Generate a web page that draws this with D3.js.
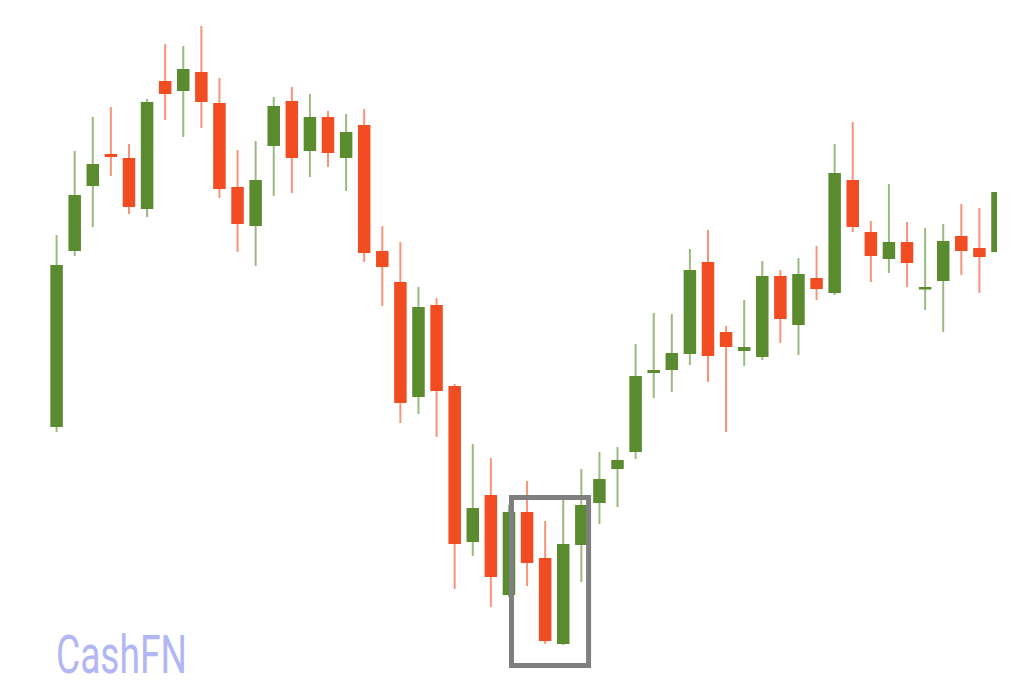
<!DOCTYPE html>
<html>
<head>
<meta charset="utf-8">
<script src="https://cdn.jsdelivr.net/npm/d3@7"></script>
<style>
html,body{margin:0;padding:0;background:#fff;}
svg{display:block;}
</style>
</head>
<body>
<svg id="chart" width="1024" height="698"></svg>
<script>
// Candle data (open, high, low, close)
const opens  = [27.3,44.9,51.4,54.6,54.2,49.1,61.9,60.9,62.8,59.7,51.3,47.4,55.4,59.9,54.9,58.3,54.2,57.5,44.9,41.8,30.3,39.5,31.4,15.8,20.5,10.5,18.8,14.2,5.6,15.5,19.7,23.1,24.8,32.7,33.0,34.6,43.8,36.8,34.9,34.3,42.4,37.5,42.2,40.7,52.0,46.8,44.1,45.8,41.1,41.9,46.4,45.2,44.8];
const highs  = [46.5,54.9,58.3,59.3,55.6,60.1,65.6,65.4,67.4,62.2,55.0,55.9,60.3,61.3,60.6,58.9,58.6,59.1,47.4,45.8,41.3,40.2,31.6,25.6,24.2,19.5,21.9,17.9,20.0,23.1,24.8,25.3,35.6,38.7,38.6,45.1,47.0,37.4,40.0,43.9,43.0,44.2,45.4,55.6,57.8,47.9,51.6,47.8,47.2,47.6,49.6,49.2,50.8];
const lows   = [26.8,44.4,47.3,52.4,48.6,48.3,58.0,56.3,57.2,50.2,44.8,43.4,50.4,50.7,52.3,53.3,50.9,43.8,39.4,27.7,28.6,26.3,11.1,14.4,9.3,10.3,11.4,5.6,5.5,11.8,17.6,19.3,24.1,30.2,30.8,33.5,31.8,26.8,33.4,34.0,35.7,34.5,40.0,40.5,46.8,41.8,42.7,41.3,39.0,36.8,42.5,40.7,44.8];
const closes = [43.5,50.5,53.6,54.3,49.3,59.8,60.6,63.1,59.8,51.1,47.6,52.0,59.4,54.2,58.3,54.7,56.8,44.7,43.3,29.7,39.3,30.9,15.6,19.2,12.3,18.8,13.7,5.9,15.6,19.5,22.1,24.0,32.4,33.0,34.7,43.0,34.4,35.3,35.3,42.4,38.1,42.6,41.1,52.7,47.3,44.4,45.8,43.7,41.3,45.9,44.9,44.3,50.8];
// Highlighted pattern: candle indices 26..29
const highlightFrom = 26, highlightTo = 29;
const highlightLow = 3.45, highlightHigh = 20.25;
const watermark = "CashFN";

const GREEN = "#5a8b2f", RED = "#f24d22";
const data = opens.map((o,i)=>({i, o, h:highs[i], l:lows[i], c:closes[i]}));

const svg = d3.select("#chart");
const x = d3.scalePoint().domain(data.map(d=>d.i)).range([56.6, 997.5]);
const y = d3.scaleLinear().domain([0, 70]).range([700, 0]);
const bodyW = 12.5;

svg.append("defs").append("clipPath").attr("id","clip")
  .append("rect").attr("x",0).attr("y",0).attr("width",997).attr("height",698);

const g = svg.append("g").attr("clip-path","url(#clip)");

// wicks
g.selectAll("line.wick").data(data).join("line")
  .attr("class","wick")
  .attr("x1", d=>x(d.i)).attr("x2", d=>x(d.i))
  .attr("y1", d=>y(d.h)).attr("y2", d=>y(d.l))
  .attr("stroke", d=>d.c>=d.o?GREEN:RED)
  .attr("stroke-opacity",0.6)
  .attr("stroke-width",2);

// bodies
g.selectAll("rect.body").data(data).join("rect")
  .attr("class","body")
  .attr("x", d=>x(d.i)-bodyW/2)
  .attr("width", bodyW)
  .attr("y", d=>y(Math.max(d.o,d.c)))
  .attr("height", d=>Math.max(2.5, Math.abs(y(d.o)-y(d.c))))
  .attr("fill", d=>d.c>=d.o?GREEN:RED);

// highlight box
const step = x.step();
const bx0 = x(highlightFrom) - step*0.86, bx1 = x(highlightTo) + step*0.4;
svg.append("rect")
  .attr("x", bx0)
  .attr("y", y(highlightHigh))
  .attr("width", bx1 - bx0)
  .attr("height", y(highlightLow) - y(highlightHigh))
  .attr("fill","none")
  .attr("stroke","#7f7f7f")
  .attr("stroke-width",5);

// watermark
svg.append("text")
  .attr("x",56).attr("y",673)
  .attr("font-family","Roboto, 'Liberation Sans', sans-serif")
  .attr("font-size",53)
  .attr("fill","#b2b6f2")
  .attr("textLength",131)
  .attr("lengthAdjust","spacingAndGlyphs")
  .text(watermark);
</script>
</body>
</html>
